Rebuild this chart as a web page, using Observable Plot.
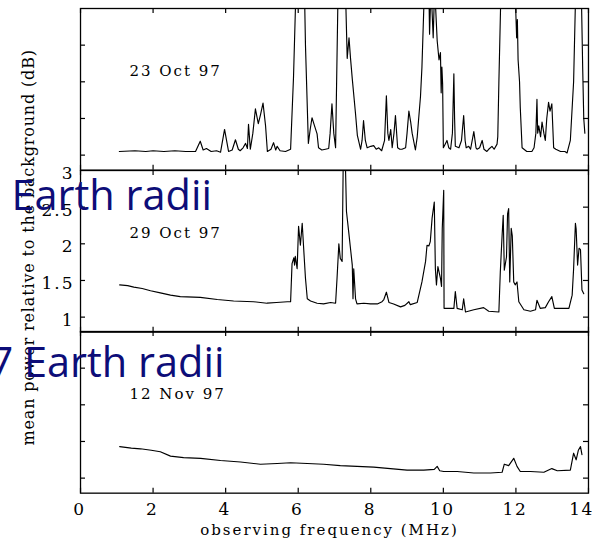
<!DOCTYPE html>
<html><head><meta charset="utf-8">
<script src="https://cdn.jsdelivr.net/npm/d3@7"></script>
<script src="https://cdn.jsdelivr.net/npm/@observablehq/plot@0.6"></script>
<style>
body{margin:0;background:#fff;overflow:hidden}
#chart{position:relative;width:592px;height:546px;background:#fff}
#chart svg{position:absolute;left:0}
g[aria-label="x-axis tick label"] text{letter-spacing:1.5px}
g[aria-description="y-tick-label"] text{letter-spacing:2px}
g[aria-description="panel-label"] text{letter-spacing:2px}
g[aria-description="y-title"] text{letter-spacing:0.85px}
g[aria-description="x-title"] text{letter-spacing:2px}
</style>
</head><body><div id="chart"></div>
<script>
const panels = ["23 Oct 97", "29 Oct 97", "12 Nov 97"];

const oct23Freq = [1.07,1.5,1.8,2.0,2.3,2.6,2.9,3.17,3.3,3.38,3.47,3.6,3.75,3.86,3.97,4.08,4.18,4.27,4.35,4.4,4.48,4.55,4.6,4.63,4.68,4.75,4.82,4.9,4.96,5.03,5.1,5.15,5.25,5.32,5.38,5.42,5.5,5.65,5.79,5.87,5.94,6.17,6.2,6.28,6.33,6.38,6.45,6.52,6.56,6.65,6.75,6.84,6.88,6.93,6.98,7.03,7.1,7.3,7.35,7.4,7.44,7.49,7.58,7.63,7.72,7.76,7.8,7.85,7.9,8.0,8.08,8.15,8.22,8.3,8.38,8.43,8.47,8.5,8.55,8.59,8.64,8.68,8.74,8.8,8.86,8.96,9.0,9.05,9.1,9.14,9.23,9.28,9.32,9.37,9.41,9.48,9.6,9.62,9.66,9.72,9.76,9.83,9.88,9.92,9.94,9.96,9.98,10.0,10.05,10.1,10.15,10.2,10.25,10.29,10.31,10.33,10.43,10.5,10.56,10.6,10.63,10.7,10.75,10.84,10.9,10.93,11.0,11.07,11.12,11.2,11.25,11.34,11.4,11.48,11.5,11.53,11.59,11.98,12.0,12.02,12.04,12.06,12.1,12.12,12.17,12.3,12.44,12.5,12.55,12.58,12.6,12.63,12.68,12.72,12.77,12.81,12.85,12.9,12.94,12.99,13.04,13.1,13.23,13.35,13.41,13.5,13.59,13.65,13.8,13.84,13.87,13.9];
const oct23Power = [1.05,1.06,1.05,1.06,1.05,1.06,1.05,1.05,1.19,1.07,1.09,1.05,1.06,1.04,1.35,1.05,1.07,1.21,1.08,1.06,1.1,1.16,1.09,1.42,1.08,1.3,1.63,1.43,1.55,1.71,1.4,1.05,1.08,1.17,1.07,1.12,1.06,1.05,1.08,2.06,3.3,3.3,2.5,1.16,1.35,1.51,1.4,1.29,1.1,1.07,1.08,1.09,1.3,1.7,1.3,1.1,3.3,3.3,2.32,2.6,2.33,2.04,1.56,1.27,1.08,1.2,1.47,1.2,1.1,1.12,1.13,1.08,1.1,1.06,1.2,1.81,1.3,1.2,1.35,1.1,1.3,1.54,1.1,1.08,1.08,1.1,1.3,1.6,1.45,1.3,1.07,1.25,1.5,1.8,2.2,3.3,3.3,2.65,3.3,2.6,3.3,2.56,2.3,2.4,1.85,2.2,1.97,1.1,1.15,1.2,1.1,1.08,1.3,2.11,1.5,1.12,1.1,1.2,1.54,1.2,1.1,1.12,1.08,1.32,1.1,1.08,1.1,1.2,1.08,1.05,1.08,1.12,1.08,1.15,1.25,1.98,3.3,3.3,2.9,2.6,2.85,2.3,2.0,1.65,1.1,1.05,1.05,1.1,1.3,1.76,1.3,1.4,1.25,1.45,1.3,1.2,1.5,1.72,1.6,1.7,1.1,1.08,1.05,1.05,1.03,1.2,2.0,3.3,3.3,2.2,1.5,1.3];

const oct29Freq = [1.08,1.3,1.47,1.7,1.93,2.2,2.48,2.75,3.3,3.77,4.22,4.77,5.14,5.4,5.7,5.79,5.83,5.88,5.9,5.92,5.97,6.01,6.06,6.11,6.15,6.2,6.25,6.34,6.52,6.7,6.89,7.03,7.07,7.12,7.16,7.21,7.24,7.3,7.33,7.39,7.44,7.49,7.51,7.53,7.58,7.62,7.81,7.99,8.18,8.31,8.36,8.43,8.5,8.63,8.82,8.94,9.05,9.09,9.28,9.41,9.51,9.55,9.6,9.64,9.69,9.75,9.78,9.81,9.85,9.92,9.95,9.97,10.01,10.02,10.29,10.33,10.38,10.52,10.56,10.61,10.84,11.11,11.25,11.53,11.57,11.62,11.65,11.68,11.74,11.77,11.8,11.83,11.87,11.9,11.94,11.98,12.03,12.08,12.22,12.4,12.54,12.58,12.67,12.81,12.9,12.99,13.06,13.32,13.46,13.55,13.59,13.64,13.66,13.7,13.74,13.78,13.82,13.87];
const oct29Power = [1.44,1.43,1.41,1.39,1.36,1.33,1.3,1.28,1.27,1.24,1.22,1.21,1.19,1.2,1.21,1.21,1.73,1.81,1.71,1.83,1.66,2.24,1.98,2.28,1.94,1.53,1.25,1.22,1.19,1.18,1.2,1.19,1.53,2.0,1.8,1.76,3.1,3.1,2.44,2.17,1.94,1.71,1.25,1.66,1.25,1.18,1.19,1.18,1.18,1.21,1.24,1.34,1.2,1.18,1.14,1.16,1.21,1.17,1.2,1.48,1.76,1.98,1.97,2.03,2.35,2.57,1.66,1.44,1.69,1.53,1.42,2.21,2.73,1.12,1.12,1.35,1.12,1.1,1.25,1.07,1.1,1.13,1.08,1.07,1.62,2.12,2.39,1.64,1.82,2.41,2.48,1.48,2.21,2.11,1.48,1.44,1.48,1.21,1.1,1.08,1.1,1.23,1.12,1.13,1.21,1.28,1.12,1.12,1.12,1.3,1.66,2.28,2.2,1.71,1.94,1.92,1.37,1.32];

const nov12Freq = [1.08,1.4,1.65,1.95,2.2,2.48,2.84,3.31,3.86,4.41,4.96,5.42,5.79,6.25,6.7,7.16,7.62,8.08,8.54,9.0,9.46,9.75,9.83,9.9,10.01,10.38,10.84,11.3,11.62,11.68,11.8,11.94,12.03,12.12,12.4,12.77,12.99,13.14,13.5,13.59,13.66,13.72,13.78,13.82];
const nov12Power = [1.43,1.41,1.4,1.38,1.36,1.3,1.28,1.27,1.24,1.22,1.19,1.2,1.21,1.2,1.19,1.17,1.16,1.15,1.13,1.11,1.11,1.12,1.16,1.1,1.09,1.09,1.07,1.07,1.08,1.19,1.17,1.27,1.16,1.09,1.09,1.08,1.13,1.1,1.11,1.34,1.25,1.38,1.43,1.32];

const xTicks = [0, 2, 4, 6, 8, 10, 12, 14];
const yTickLabels = [1, 1.5, 2, 2.5, 3];
const yTickMarks = [1, 1.5, 2, 2.5];
const xLabel = "observing frequency (MHz)";
const yLabel = "mean power relative to the background (dB)";
const overlayTop = "Earth radii";
const overlayBottom = "7 Earth radii";

const series = [
  {freq: oct23Freq, power: oct23Power},
  {freq: oct29Freq, power: oct29Power},
  {freq: nov12Freq, power: nov12Power}
];

const W = 592, H = 546, mT = 8, mB = 53, mL = 80, mR = 4, pad = 3;
const xDomain = [0, 14], yDomain = [0.795, 3];
const panelH = (H - mT - mB) / panels.length;
const frameW = W - mL - mR;
const tickLen = 5;
const tickDX = (xDomain[1] - xDomain[0]) * tickLen / frameW;
const tickDY = (yDomain[1] - yDomain[0]) * tickLen / panelH;
const serif = "DejaVu Serif";
const navy = "#0d0d78";

function panelPlot(i, extra, isBottom) {
  const rows = series[i].freq.map((f, k) => ({f, p: series[i].power[k]}));
  const bottomMargin = isBottom ? mB : pad;
  const svg = Plot.plot({
    width: W, height: panelH + pad + bottomMargin,
    marginTop: pad, marginBottom: bottomMargin, marginLeft: mL, marginRight: mR,
    style: {fontFamily: serif, background: "transparent", color: "black", overflow: "visible"},
    x: {domain: xDomain},
    y: {domain: yDomain, axis: null},
    marks: [
      Plot.lineY(rows, {x: "f", y: "p", stroke: "black", strokeWidth: 1.15, clip: true}),
      Plot.frame({stroke: "black", strokeWidth: 1.3}),
      Plot.ruleX(xTicks, {x: d => d, y1: yDomain[0], y2: yDomain[0] + tickDY, stroke: "black", strokeWidth: 1.2}),
      Plot.ruleX(xTicks, {x: d => d, y1: yDomain[1] - tickDY, y2: yDomain[1], stroke: "black", strokeWidth: 1.2}),
      Plot.ruleY(yTickMarks, {y: d => d, x1: xDomain[0], x2: xDomain[0] + tickDX, stroke: "black", strokeWidth: 1.2}),
      Plot.ruleY(yTickMarks, {y: d => d, x1: xDomain[1] - tickDX, x2: xDomain[1], stroke: "black", strokeWidth: 1.2}),
      Plot.text([panels[i]], {x: () => 1.35, y: () => 2.15, textAnchor: "start", fontSize: 15, ariaDescription: "panel-label"}),
      ...extra
    ]
  });
  svg.style.top = (mT + i * panelH - pad) + "px";
  return svg;
}

const chart = document.getElementById("chart");

chart.appendChild(panelPlot(0, [Plot.axisX({ticks: [], label: null})], false));

chart.appendChild(panelPlot(1, [
  Plot.axisX({ticks: [], label: null}),
  Plot.text(yTickLabels, {y: d => d, frameAnchor: "left", textAnchor: "end", dx: -6, dy: 3, fontSize: 17, ariaDescription: "y-tick-label"}),
  Plot.text([yLabel], {frameAnchor: "left", rotate: -90, dx: -52, dy: -4, textAnchor: "middle", fontSize: 16, ariaDescription: "y-title"}),
  Plot.text([overlayTop], {frameAnchor: "top-left", lineAnchor: "top", dx: -69, dy: 10.5, textAnchor: "start", fontFamily: "Open Sans", fontSize: 41.5, fill: navy})
], false));

chart.appendChild(panelPlot(2, [
  Plot.axisX({ticks: xTicks.slice(0, -1), anchor: "bottom", tickSize: 0, tickPadding: 10, fontSize: 17, dx: -1, label: null}),
  Plot.axisX({ticks: xTicks.slice(-1), anchor: "bottom", tickSize: 0, tickPadding: 10, fontSize: 17, dx: -7, label: null}),
  Plot.text([xLabel], {frameAnchor: "bottom", dx: -5, dy: 42, textAnchor: "middle", fontSize: 15, ariaDescription: "x-title"}),
  Plot.text([overlayBottom], {frameAnchor: "top-left", lineAnchor: "top", dx: -91, dy: 15.8, textAnchor: "start", fontFamily: "Open Sans", fontSize: 41.5, fill: navy})
], true));
</script>
</body></html>
